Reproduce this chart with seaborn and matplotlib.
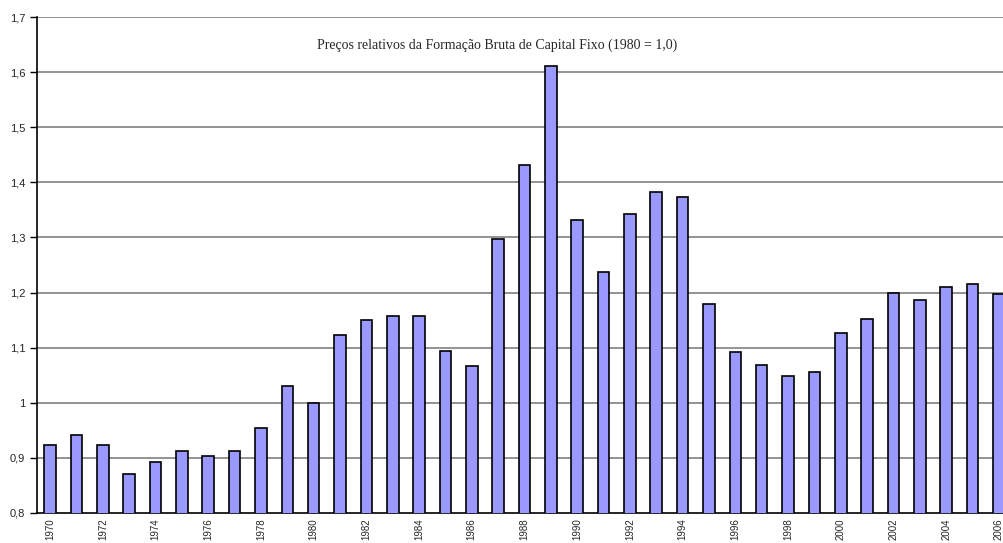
import numpy as np
import pandas as pd
import seaborn as sns
import matplotlib.pyplot as plt
from matplotlib.ticker import FuncFormatter, FixedLocator

# ── Data ──────────────────────────────────────────────────────────────────────
years = [str(y) for y in range(1970, 2007)]
precos = [0.923, 0.942, 0.923, 0.870, 0.892, 0.912, 0.903, 0.913, 0.955, 1.030,
          1.000, 1.123, 1.150, 1.157, 1.158, 1.094, 1.066, 1.297, 1.431, 1.611,
          1.332, 1.238, 1.343, 1.383, 1.373, 1.179, 1.093, 1.069, 1.048, 1.056,
          1.126, 1.152, 1.200, 1.186, 1.210, 1.216, 1.197]
y_ticks = [0.8, 0.9, 1.0, 1.1, 1.2, 1.3, 1.4, 1.5, 1.6, 1.7]
title = "Preços relativos da Formação Bruta de Capital Fixo (1980 = 1,0)"

df = pd.DataFrame({"ano": years, "preco": precos})

sns.set_style("white")
plt.rcParams["font.family"] = ["Liberation Sans", "DejaVu Sans"]

fig = plt.figure(figsize=(10.04, 5.43), dpi=100)
# axes runs past the right edge of the figure, as in the original
ax = fig.add_axes([37/1004, 30/543, 975/1004, 496/543])

sns.barplot(data=df, x="ano", y="preco", color="#9999FF", saturation=1,
            width=0.44, edgecolor="black", linewidth=1.2, ax=ax, zorder=3)

ax.set_ylim(0.8, 1.7)
ax.set_xlim(-0.5, len(years) - 0.5)
ax.set_yticks(y_ticks)
ax.yaxis.set_major_formatter(FuncFormatter(
    lambda v, p: f"{v:.1f}".rstrip("0").rstrip(".").replace(".", ",")))
for v in y_ticks[1:]:
    ax.axhline(v, color="#808080", lw=1.2, zorder=1)

# labels every other year, tick marks between bars
ax.set_xticks(range(0, len(years), 2))
ax.set_xticklabels(years[::2], rotation=90, fontsize=7)
ax.xaxis.set_minor_locator(FixedLocator(np.arange(-0.5, len(years), 1)))
ax.tick_params(axis="x", which="major", length=0, pad=4)
ax.tick_params(axis="x", which="minor", length=4, width=1, color="black", direction="out")
ax.tick_params(axis="y", length=5, width=1, color="black", direction="out",
               labelsize=8, left=True)

for s in ["top", "right"]:
    ax.spines[s].set_visible(False)
for s in ["left", "bottom"]:
    ax.spines[s].set_color("black")
    ax.spines[s].set_linewidth(1.2)

ax.set_xlabel("")
ax.set_ylabel("")
fig.text(497/1004, 1 - 45/543, title, fontsize=10, ha="center", va="center",
         family=["Liberation Serif", "DejaVu Serif"])

fig.savefig("out.png", dpi=100)
